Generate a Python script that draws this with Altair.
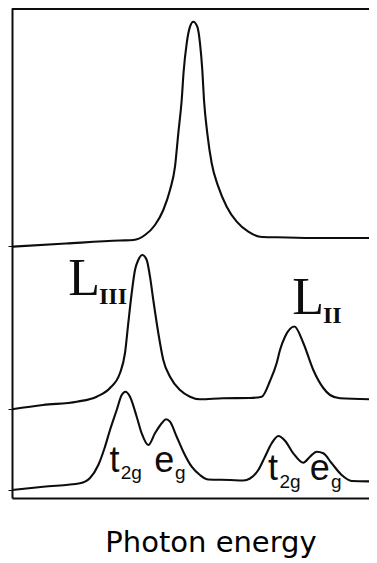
import altair as alt
import pandas as pd

# Spectra (x: photon energy, arb. units; y: intensity incl. vertical offset)
top_x = [0, 54, 108, 121.3, 133, 143, 151.3, 158, 163, 166.3, 169.7, 171.6, 174.7, 178,
         181.3, 185.3, 188, 190.3, 192, 195.3, 199.7, 206.3, 214.7, 224.7, 236.3, 248,
         264.7, 300, 365]
top_y = [251.3, 254.5, 257.5, 258, 263, 273, 288, 308, 331.3, 364.7, 398, 426, 454.7, 471.3,
         476.3, 471.3, 454.7, 428, 398, 364.7, 334.7, 311.3, 291.3, 276.3, 266.3, 261.3,
         260.7, 260, 260]

mid_x = [0, 31, 64.7, 84.7, 98, 108, 113, 116.3, 119.7, 123, 126.3, 130.3, 134.7, 138,
         141.3, 146.3, 151.3, 158, 168, 178, 188, 211, 237.7, 249.7, 258, 264.7, 268, 273,
         282.5, 291.3, 301.3, 311.3, 318, 328, 364.7]
mid_y = [88.7, 93, 96.3, 101.3, 110, 125, 145, 175, 205, 228, 238, 243, 238, 221.3,
         198, 165, 138, 121.3, 108, 101.3, 98.7, 99.7, 100, 101.3, 117, 135, 148, 161.3,
         171.5, 155, 128, 110, 103, 99.7, 98.7]

bot_x = [0, 31.3, 68, 78, 86.3, 93, 98, 104.7, 109.7, 113.5, 118, 124.7, 129.7, 136.3,
         143, 149.7, 154, 158, 164.7, 171.3, 179.7, 188, 196.3, 218, 231.3, 238, 246.3,
         253, 259.7, 266.3, 273, 281.3, 291.3, 298, 304.7, 311.3, 319.7, 329.7, 339.7,
         364.7]
bot_y = [8, 11.3, 14.7, 20, 33, 51.3, 68, 88, 103, 106.3, 101.3, 81.3, 64.7, 53,
         64.7, 74.7, 78.7, 76.3, 61.3, 46.3, 31.3, 23, 18.5, 18, 17.5, 19.5, 28,
         41.3, 54.7, 62, 57.3, 44.7, 35.3, 41.3, 46.3, 44.7, 34.7, 23, 17,
         16.5]

baseline_ticks = [8, 89, 251.5]

# Annotations
edge_text = ["L", "L"]
edge_x = [72.2, 296]
edge_y = [203, 184.5]
edge_sub = ["III", "II"]
edge_sub_x = [101, 320.3]
edge_sub_y = [194, 175]

orb_text = ["t", "e", "t", "e"]
orb_x = [102.5, 152.2, 261, 307.8]
orb_y = [26.3, 26.3, 18, 18]
orb_sub = ["2g", "g", "2g", "g"]
orb_sub_x = [119.3, 168.3, 278, 324.3]
orb_sub_y = [19, 19, 10, 10]

rows = []
for name, xs_, ys_ in [("top", top_x, top_y), ("mid", mid_x, mid_y), ("bot", bot_x, bot_y)]:
    for a, b in zip(xs_, ys_):
        rows.append({"series": name, "x": a, "y": b})
df = pd.DataFrame(rows)

W = 357
X_DOM = [0, W]
Y_DOM = [0, 490]
INK = "#0d0d0d"

xs = alt.Scale(domain=X_DOM, nice=False, zero=False)
ys = alt.Scale(domain=Y_DOM, nice=False, zero=False)

lines = alt.Chart(df).mark_line(color=INK, strokeWidth=2.1, interpolate="monotone",
                                clip=True).encode(
    x=alt.X("x:Q", scale=xs,
            axis=alt.Axis(title="Photon energy", labels=False, ticks=False, grid=False,
                          domain=True, domainColor=INK, domainWidth=2,
                          titleFont="DejaVu Sans", titleFontSize=29, titleFontWeight="normal",
                          titleColor="#000000", titleX=198.5, titleY=53,
                          titleAlign="center", titleBaseline="alphabetic")),
    y=alt.Y("y:Q", scale=ys,
            axis=alt.Axis(title=None, labels=False, ticks=True, tickSize=4, tickWidth=1,
                          tickColor=INK, grid=False, values=baseline_ticks,
                          domain=True, domainColor=INK, domainWidth=2)),
    detail="series:N",
)

top_rule = alt.Chart(pd.DataFrame({"a": [0]})).mark_rule(color=INK, strokeWidth=2).encode(
    x=alt.value(0), x2=alt.value(W), y=alt.value(1)
)


def text_layer(texts, xv, yv, font, size, weight="normal"):
    d = pd.DataFrame({"t": texts, "x": xv, "y": yv})
    return alt.Chart(d).mark_text(font=font, fontSize=size, fontWeight=weight, color=INK,
                                  align="center", baseline="alphabetic").encode(
        x=alt.X("x:Q", scale=xs), y=alt.Y("y:Q", scale=ys), text="t:N")


chart = alt.layer(
    lines,
    top_rule,
    text_layer(edge_text, edge_x, edge_y, "Liberation Serif", 52),
    text_layer(edge_sub, edge_sub_x, edge_sub_y, "Liberation Serif", 24, "bold"),
    text_layer(orb_text, orb_x, orb_y, "Liberation Sans", 36),
    text_layer(orb_sub, orb_sub_x, orb_sub_y, "Liberation Sans", 19),
).properties(
    width=W, height=490,
    padding={"left": 4, "top": 0, "right": 0, "bottom": 62},
    autosize=alt.AutoSizeParams(type="none"),
).configure_view(stroke=None)

chart.save("out.html", embed_options={"renderer": "svg", "actions": False})
